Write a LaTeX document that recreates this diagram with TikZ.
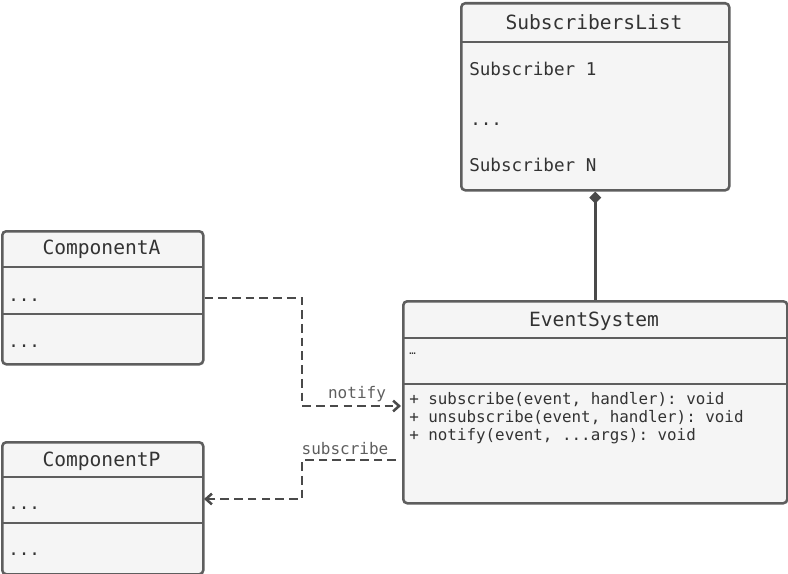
\documentclass[tikz,border=0pt]{standalone}
\usepackage{fontspec}
\setmonofont{DejaVu Sans Mono}
\usetikzlibrary{arrows.meta}
\definecolor{boxline}{HTML}{5E5E5E}
\definecolor{depline}{HTML}{4A4A4A}
\definecolor{boxfill}{HTML}{F5F5F5}
\definecolor{txt}{HTML}{333333}

\begin{document}
\begin{tikzpicture}[x=0.75pt, y=-0.75pt,
	every node/.style={font=\ttfamily, text=txt, inner sep=0pt},
	umlbox/.style={draw=boxline, fill=boxfill, line width=1.9pt, rounded corners=3pt, anchor=north west},
	sepline/.style={draw=boxline, line width=1.9pt},
	classtitle/.style={font=\ttfamily\fontsize{14.7}{16}\selectfont},
	member/.style={anchor=west, font=\ttfamily\fontsize{13.2}{15}\selectfont},
	method/.style={anchor=west, font=\ttfamily\fontsize{11.9}{14}\selectfont},
	dep/.style={draw=depline, line width=1.9pt, dash pattern=on 6.5pt off 3.8pt, -{Straight Barb[length=4.5pt,width=8pt]}},
	lbl/.style={font=\ttfamily\fontsize{12}{13}\selectfont, text=boxline}]
	\useasboundingbox (0,0) rectangle (788,574);

	% SubscribersList
	\node[umlbox, minimum width=201pt, minimum height=140.25pt] (subs) at (460,2) {};
	\draw[sepline] (460,42) -- (728,42);
	\node[classtitle] (subsT) at (594,22) {SubscribersList};
	\node[member] (subs1) at (469,69) {Subscriber 1};
	\node[member] (subsDots) at (470,124) {...};
	\node[member] (subsN) at (469,165) {Subscriber N};

	% ComponentA
	\node[umlbox, minimum width=150.75pt, minimum height=99.75pt] (compA) at (1,230) {};
	\draw[sepline] (1,267) -- (202,267);
	\draw[sepline] (1,314) -- (202,314);
	\node[classtitle] (compAT) at (101.5,249) {ComponentA};
	\node[member] (compA1) at (8,300) {...};
	\node[member] (compA2) at (8,346) {...};

	% ComponentP
	\node[umlbox, minimum width=150.75pt, minimum height=99pt] (compP) at (1,441) {};
	\draw[sepline] (1,477) -- (202,477);
	\draw[sepline] (1,523) -- (202,523);
	\node[classtitle] (compPT) at (101.5,461) {ComponentP};
	\node[member] (compP1) at (8,508) {...};
	\node[member] (compP2) at (8,554) {...};

	% EventSystem
	\node[umlbox, minimum width=288pt, minimum height=151.5pt] (evsys) at (402,300) {};
	\draw[sepline] (402,338) -- (786,338);
	\draw[sepline] (402,384) -- (786,384);
	\node[classtitle] (evsysT) at (594,321) {EventSystem};
	\node[anchor=west, font=\ttfamily\fontsize{8}{10}\selectfont] (evsysF) at (409,354) {\symbol{"2026}};
	\node[method] (m1) at (409,399.5) {+ subscribe(event, handler): void};
	\node[method] (m2) at (409,418) {+ unsubscribe(event, handler): void};
	\node[method] (m3) at (409,436.5) {+ notify(event, ...args): void};

	% connectors
	\draw[draw=depline, line width=1.9pt, {Diamond[length=9pt,width=9pt]}-] (subs.south) -- (evsys.north);

	\coordinate (bendx) at (302,0);
	\coordinate (notifyIn) at (401,406);
	\coordinate (subsOut) at (396,460);
	\coordinate (compPIn) at (204,499);
	\draw[dep] (compA.east) -| (bendx |- notifyIn) -- (notifyIn);
	\draw[dep] (subsOut) -| (bendx |- compPIn) -- (compPIn);
	\node[lbl] (notifyL) at (357,394) {notify};
	\node[lbl] (subscribeL) at (345,449) {subscribe};
\end{tikzpicture}
\end{document}
